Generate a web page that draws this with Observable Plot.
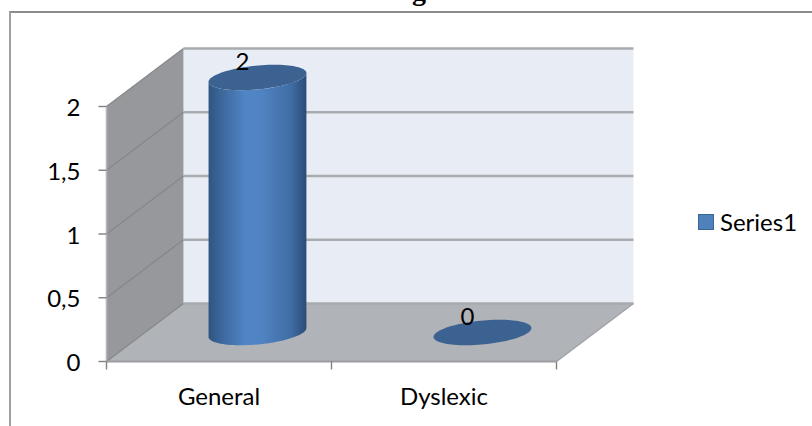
<!DOCTYPE html>
<html>
<head>
<meta charset="utf-8">
<script src="https://cdn.jsdelivr.net/npm/d3@7"></script>
<script src="https://cdn.jsdelivr.net/npm/@observablehq/plot@0.6"></script>
<style>
  html, body { margin: 0; padding: 0; background: #fff; overflow: hidden; }
  #chart { position: relative; width: 812px; height: 426px; overflow: hidden; }
  #chart svg { display: block; position: absolute; left: 0; top: 0; }
  #frame { position: absolute; left: 9px; top: 11px; right: -4px; bottom: -4px;
           border-left: 2px solid #a0a0a0; border-top: 2px solid #8c8c8c; }
  #title { position: absolute; left: 387px; top: -23px; white-space: nowrap;
           font: bold 28px/28px "Liberation Serif", serif; color: #000; }
  #legend { position: absolute; left: 698px; top: 214px; display: flex; align-items: center;
            font: 24px/16px Lato, sans-serif; color: #000; }
  #legend i { display: block; width: 14px; height: 14px; margin-right: 6px; background: #4f81bd;
              border: 1px solid #3a6595; }
</style>
</head>
<body>
<div id="chart">
  <div id="frame"></div>
  <div id="title">Figure 3</div>
  <div id="legend"><i></i><span></span></div>
</div>
<script>
// Values shown on the chart
const categories = ["General", "Dyslexic"];
const seriesValues = [2, 0];
const seriesName = "Series1";
const yTicks = [0, 0.5, 1, 1.5, 2];
const xTicks = [0, 1, 2];

// Oblique projection: one unit of depth shifts a point right and up, in data units
const depthX = 0.342;
const depthY = 0.455;
const project = (x, v, d) => ({x: x + depthX * d, y: v + depthY * d});

// Column cross-section, in units of category width and of depth
const radiusX = 0.204;
const radiusD = 0.22;
const edge = Math.atan2(radiusD * depthX, radiusX);
const rim = (i, v, t) =>
  project(i + 0.5 + radiusX * Math.cos(t), v, 0.5 + radiusD * Math.sin(t));
const arc = (i, v, from, to, n = 48) =>
  d3.range(n + 1).map((k) => rim(i, v, from + (to - from) * k / n));

const maxY = d3.max(yTicks);

const backWall = [project(0, 0, 1), project(2, 0, 1), project(2, maxY, 1), project(0, maxY, 1)];
const sideWall = [project(0, 0, 0), project(0, 0, 1), project(0, maxY, 1), project(0, maxY, 0)];
const floor = [project(0, 0, 0), project(2, 0, 0), project(2, 0, 1), project(0, 0, 1)];

const columnBody = (i, v) => [
  ...arc(i, 0, edge - Math.PI, edge),
  ...arc(i, v, edge, edge - Math.PI)
];
const columnCap = (i, v) => arc(i, v, 0, 2 * Math.PI, 96);

const rows = categories.map((name, i) => ({name, i, value: seriesValues[i]}));
const commaFormat = (d) => String(d).replace(".", ",");

// Horizontal shading of the cylinder
const gradientDefs = () => {
  const svgNS = "http://www.w3.org/2000/svg";
  const defs = document.createElementNS(svgNS, "defs");
  const g = document.createElementNS(svgNS, "linearGradient");
  g.setAttribute("id", "cylinderShade");
  g.setAttribute("x1", "0"); g.setAttribute("x2", "1"); g.setAttribute("y1", "0"); g.setAttribute("y2", "0");
  [[0, "#2f5580"], [0.12, "#3c6699"], [0.38, "#5085c6"], [0.55, "#5083c2"], [0.85, "#3f6ca3"], [1, "#2b4b76"]]
    .forEach(([o, c]) => {
      const s = document.createElementNS(svgNS, "stop");
      s.setAttribute("offset", o);
      s.setAttribute("stop-color", c);
      g.appendChild(s);
    });
  defs.appendChild(g);
  return defs;
};

// Straight segment between two data-space points
const segment = (a, b, options) =>
  Plot.link([0], {x1: () => a.x, y1: () => a.y, x2: () => b.x, y2: () => b.y, ...options});

const plot = Plot.plot({
  width: 812,
  height: 426,
  style: {background: "transparent", fontFamily: "Lato, sans-serif", overflow: "visible"},
  x: {type: "linear", domain: [0, 2], range: [106, 556], axis: null},
  y: {type: "linear", domain: [0, maxY], range: [361, 106], axis: null},
  marks: [
    gradientDefs,
    // Walls and floor
    Plot.line(backWall, {x: "x", y: "y", fill: "#e8ecf5", stroke: "none"}),
    Plot.line(sideWall, {x: "x", y: "y", fill: "#97989b", stroke: "none"}),
    Plot.line(floor, {x: "x", y: "y", fill: "#b0b3b7", stroke: "none"}),
    // Gridlines along the back wall and up the side wall
    Plot.link(yTicks, {
      x1: () => project(0, 0, 1).x, x2: () => project(2, 0, 1).x,
      y1: (d) => project(0, d, 1).y, y2: (d) => project(2, d, 1).y,
      stroke: "#a9abae", strokeWidth: 2.4
    }),
    Plot.link(yTicks, {
      x1: () => project(0, 0, 0).x, x2: () => project(0, 0, 1).x,
      y1: (d) => project(0, d, 0).y, y2: (d) => project(0, d, 1).y,
      stroke: "#86878a", strokeWidth: 1.3
    }),
    // Front and right edges of the floor, left edge of the side wall
    segment(project(0, 0, 0), project(2, 0, 0), {stroke: "#9c9ea1", strokeWidth: 2.2}),
    segment(project(2, 0, 0), project(2, 0, 1), {stroke: "#a0a2a5", strokeWidth: 1.4}),
    segment(project(0, 0, 0), project(0, maxY, 0), {stroke: "#b5b6b8", strokeWidth: 1.6}),
    // Cylinders
    ...rows.filter((d) => d.value > 0).map((d) =>
      Plot.line(columnBody(d.i, d.value), {x: "x", y: "y", fill: "url(#cylinderShade)", stroke: "none"})
    ),
    ...rows.map((d) =>
      Plot.line(columnCap(d.i, d.value), {x: "x", y: "y", fill: "#3b6291", stroke: "none"})
    ),
    // Axis ticks
    Plot.link(yTicks, {x1: () => -8 / 225, x2: () => 0, y1: (d) => d, y2: (d) => d, stroke: "#808080", strokeWidth: 1.4}),
    Plot.link(xTicks, {x1: (d) => d, x2: (d) => d, y1: () => 0, y2: () => -8 / 127.5, stroke: "#808080", strokeWidth: 1.4}),
    // Axis labels
    Plot.text(yTicks, {
      x: () => 0, y: (d) => d, text: commaFormat, dx: -26, dy: 2,
      textAnchor: "end", fontSize: 24, fill: "#000"
    }),
    Plot.text(rows, {
      x: (d) => d.i + 0.5, y: () => 0, text: "name", dy: 36,
      fontSize: 24, fill: "#000"
    }),
    // Value labels next to the cylinder tops
    Plot.text(rows, {
      x: (d) => project(d.i + 0.5, d.value, 0.5).x,
      y: (d) => project(d.i + 0.5, d.value, 0.5).y,
      text: (d) => String(d.value), dx: -15, dy: -15,
      fontSize: 24, fill: "#000"
    })
  ]
});

document.getElementById("chart").insertBefore(plot, document.getElementById("title"));
document.querySelector("#legend span").textContent = seriesName;
</script>
</body>
</html>
